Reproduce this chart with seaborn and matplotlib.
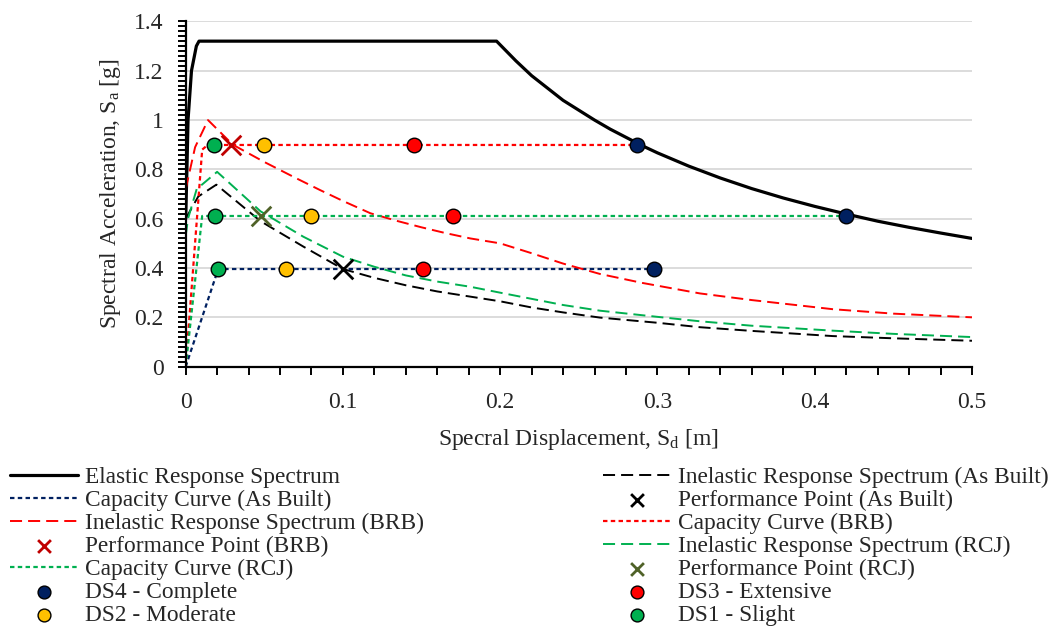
import numpy as np
import pandas as pd
import matplotlib
matplotlib.use("Agg")
import matplotlib.pyplot as plt
from matplotlib.ticker import MultipleLocator, FuncFormatter
import seaborn as sns

# --- datos ---
elastic_sd = [0.0, 0.0008, 0.0015, 0.0037, 0.0068, 0.0085, 0.1977, 0.21, 0.22, 0.23, 0.24, 0.25,
              0.26, 0.27, 0.28, 0.29, 0.30, 0.32, 0.34, 0.36, 0.38, 0.40, 0.42, 0.44, 0.46, 0.48, 0.50]
elastic_sa = [0.60, 0.80, 1.00, 1.20, 1.30, 1.32, 1.32, 1.24, 1.18, 1.13, 1.08, 1.04,
              1.00, 0.963, 0.93, 0.897, 0.867, 0.813, 0.765, 0.722, 0.684, 0.65, 0.619, 0.59,
              0.565, 0.542, 0.52]

inel_ab_sd = [0.0, 0.008, 0.0195, 0.0476, 0.0748, 0.10, 0.12, 0.14, 0.16, 0.181, 0.20, 0.22, 0.24,
              0.2634, 0.30, 0.327, 0.36, 0.4115, 0.45, 0.50]
inel_ab_sa = [0.60, 0.69, 0.738, 0.59, 0.487, 0.396, 0.36, 0.33, 0.305, 0.284, 0.265, 0.24, 0.22,
              0.199, 0.178, 0.16, 0.145, 0.124, 0.115, 0.105]

inel_brb_sd = [0.0, 0.006, 0.0142, 0.03, 0.04, 0.05, 0.07, 0.0855, 0.10, 0.1175, 0.135, 0.15, 0.165,
               0.181, 0.20, 0.22, 0.24, 0.2634, 0.29, 0.327, 0.36, 0.4115, 0.45, 0.50]
inel_brb_sa = [0.72, 0.89, 1.00, 0.90, 0.865, 0.83, 0.765, 0.716, 0.672, 0.622, 0.59, 0.565, 0.542,
               0.52, 0.50, 0.46, 0.418, 0.376, 0.34, 0.297, 0.27, 0.233, 0.215, 0.20]

inel_rcj_sd = [0.0, 0.0015, 0.007, 0.020, 0.0476, 0.0748, 0.10, 0.12, 0.14, 0.16, 0.181, 0.20, 0.22,
               0.24, 0.2634, 0.30, 0.327, 0.36, 0.4115, 0.45, 0.50]
inel_rcj_sa = [0.53, 0.60, 0.72, 0.79, 0.63, 0.527, 0.446, 0.405, 0.37, 0.345, 0.324, 0.30, 0.275,
               0.25, 0.227, 0.202, 0.184, 0.166, 0.146, 0.133, 0.12]

cap_ab_sd = [0.0, 0.0207, 0.298]
cap_ab_sa = [0.0, 0.396, 0.396]
cap_brb_sd = [0.0, 0.0105, 0.014, 0.287]
cap_brb_sa = [0.0, 0.88, 0.899, 0.899]
cap_rcj_sd = [0.0, 0.0105, 0.42]
cap_rcj_sa = [0.0, 0.611, 0.611]

# performance points (As Built, BRB, RCJ)
pp_sd = [0.1003, 0.029, 0.0476]
pp_sa = [0.396, 0.899, 0.611]

# damage states, orden: As Built, BRB, RCJ
ds_sa = [0.396, 0.899, 0.611]
ds4_sd = [0.298, 0.287, 0.42]
ds3_sd = [0.151, 0.1455, 0.170]
ds2_sd = [0.0637, 0.0497, 0.0797]
ds1_sd = [0.0207, 0.018, 0.0186]

sns.set_theme(style="ticks")
plt.rcParams['font.family'] = ['Liberation Serif', 'DejaVu Serif']
plt.rcParams['mathtext.fontset'] = 'custom'
plt.rcParams['mathtext.rm'] = 'Liberation Serif'
plt.rcParams['mathtext.it'] = 'Liberation Serif'

fig = plt.figure(figsize=(10.64, 6.3), dpi=100)
ax = fig.add_axes([0.1745, 0.418, 0.739, 0.548])

NAVY, RED, GREEN = '#002060', '#FF0000', '#00B050'
dash = (6.2, 3.1)
dot = (2, 1.5)


def linea(sd, sa, color, lw, label, dashes=None):
    df = pd.DataFrame({'sd': sd, 'sa': sa})
    sns.lineplot(data=df, x='sd', y='sa', ax=ax, color=color, lw=lw, sort=False,
                 estimator=None, label=label)
    ln = ax.lines[-1]
    if dashes is not None:
        ln.set_dashes(dashes)
    return ln


h = {}
h['el'] = linea(elastic_sd, elastic_sa, 'black', 2.3, 'Elastic Response Spectrum')
h['iab'] = linea(inel_ab_sd, inel_ab_sa, 'black', 1.4, 'Inelastic Response Spectrum (As Built)', dash)
h['cab'] = linea(cap_ab_sd, cap_ab_sa, NAVY, 1.6, 'Capacity Curve (As Built)', dot)
h['ibrb'] = linea(inel_brb_sd, inel_brb_sa, RED, 1.4, 'Inelastic Response Spectrum (BRB)', dash)
h['cbrb'] = linea(cap_brb_sd, cap_brb_sa, RED, 1.6, 'Capacity Curve (BRB)', dot)
h['ircj'] = linea(inel_rcj_sd, inel_rcj_sa, GREEN, 1.4, 'Inelastic Response Spectrum (RCJ)', dash)
h['crcj'] = linea(cap_rcj_sd, cap_rcj_sa, GREEN, 1.6, 'Capacity Curve (RCJ)', dot)

for nombre, sd, col in [('DS4 - Complete', ds4_sd, NAVY), ('DS3 - Extensive', ds3_sd, RED),
                        ('DS2 - Moderate', ds2_sd, '#FFC000'), ('DS1 - Slight', ds1_sd, GREEN)]:
    h[nombre] = ax.scatter(sd, ds_sa, s=110, color=col, edgecolor='black', linewidth=1.0,
                           zorder=5, label=nombre)

pp_cols = ['black', '#C00000', '#4F6228']
pp_lab = ['Performance Point (As Built)', 'Performance Point (BRB)', 'Performance Point (RCJ)']
for i in range(3):
    h[pp_lab[i]] = ax.scatter([pp_sd[i]], [pp_sa[i]], marker='x', s=200, color=pp_cols[i],
                              linewidth=2.0, zorder=6, label=pp_lab[i])

ax.set_xlim(0, 0.5)
ax.set_ylim(0, 1.4)
ax.xaxis.set_major_locator(MultipleLocator(0.1))
ax.xaxis.set_minor_locator(MultipleLocator(0.02))
ax.yaxis.set_major_locator(MultipleLocator(0.2))
ax.yaxis.set_minor_locator(MultipleLocator(0.02))
fmt = FuncFormatter(lambda v, p: f"{v:g}")
ax.xaxis.set_major_formatter(fmt)
ax.yaxis.set_major_formatter(fmt)
ax.yaxis.grid(True, color='#D9D9D9', lw=1.3)
ax.set_axisbelow(True)
sns.despine(ax=ax)
for s in ['left', 'bottom']:
    ax.spines[s].set_linewidth(1.6)
    ax.spines[s].set_color('black')
ax.tick_params(axis='both', which='both', direction='out', color='black', width=1.4, length=6)
ax.tick_params(axis='x', which='major', labelsize=17, pad=12)
ax.tick_params(axis='y', which='major', labelsize=17, pad=10)

ax.set_xlabel(r"Specral Displacement, S$\mathregular{_d}$ [m]", fontsize=17, labelpad=10)
ax.set_ylabel(r"Spectral Acceleration, S$\mathregular{_a}$ [g]", fontsize=17, labelpad=8)

# orden tipo Excel (por filas) -> matplotlib llena por columnas
orden = ['el', 'iab', 'cab', 'Performance Point (As Built)', 'ibrb', 'cbrb', 'Performance Point (BRB)',
         'ircj', 'crcj', 'Performance Point (RCJ)', 'DS4 - Complete', 'DS3 - Extensive',
         'DS2 - Moderate', 'DS1 - Slight']
handles = [h[k] for k in orden]
labels = [x.get_label() for x in handles]
handles = handles[0::2] + handles[1::2]
labels = labels[0::2] + labels[1::2]
ax.get_legend().remove()
leg = fig.legend(handles, labels, loc='upper left', bbox_to_anchor=(0.009, 0.0, 0.9765, 0.2587),
                 mode='expand', ncol=2, frameon=False, fontsize=16.8, borderaxespad=0, borderpad=0,
                 handlelength=2.92, handletextpad=0.3, labelspacing=0.07, scatterpoints=1)
for lh, lab in zip(leg.legend_handles, labels):
    if lab.startswith('Performance') or lab.startswith('DS'):
        lh.set_sizes([85])

fig.savefig('out.png', dpi=100)
